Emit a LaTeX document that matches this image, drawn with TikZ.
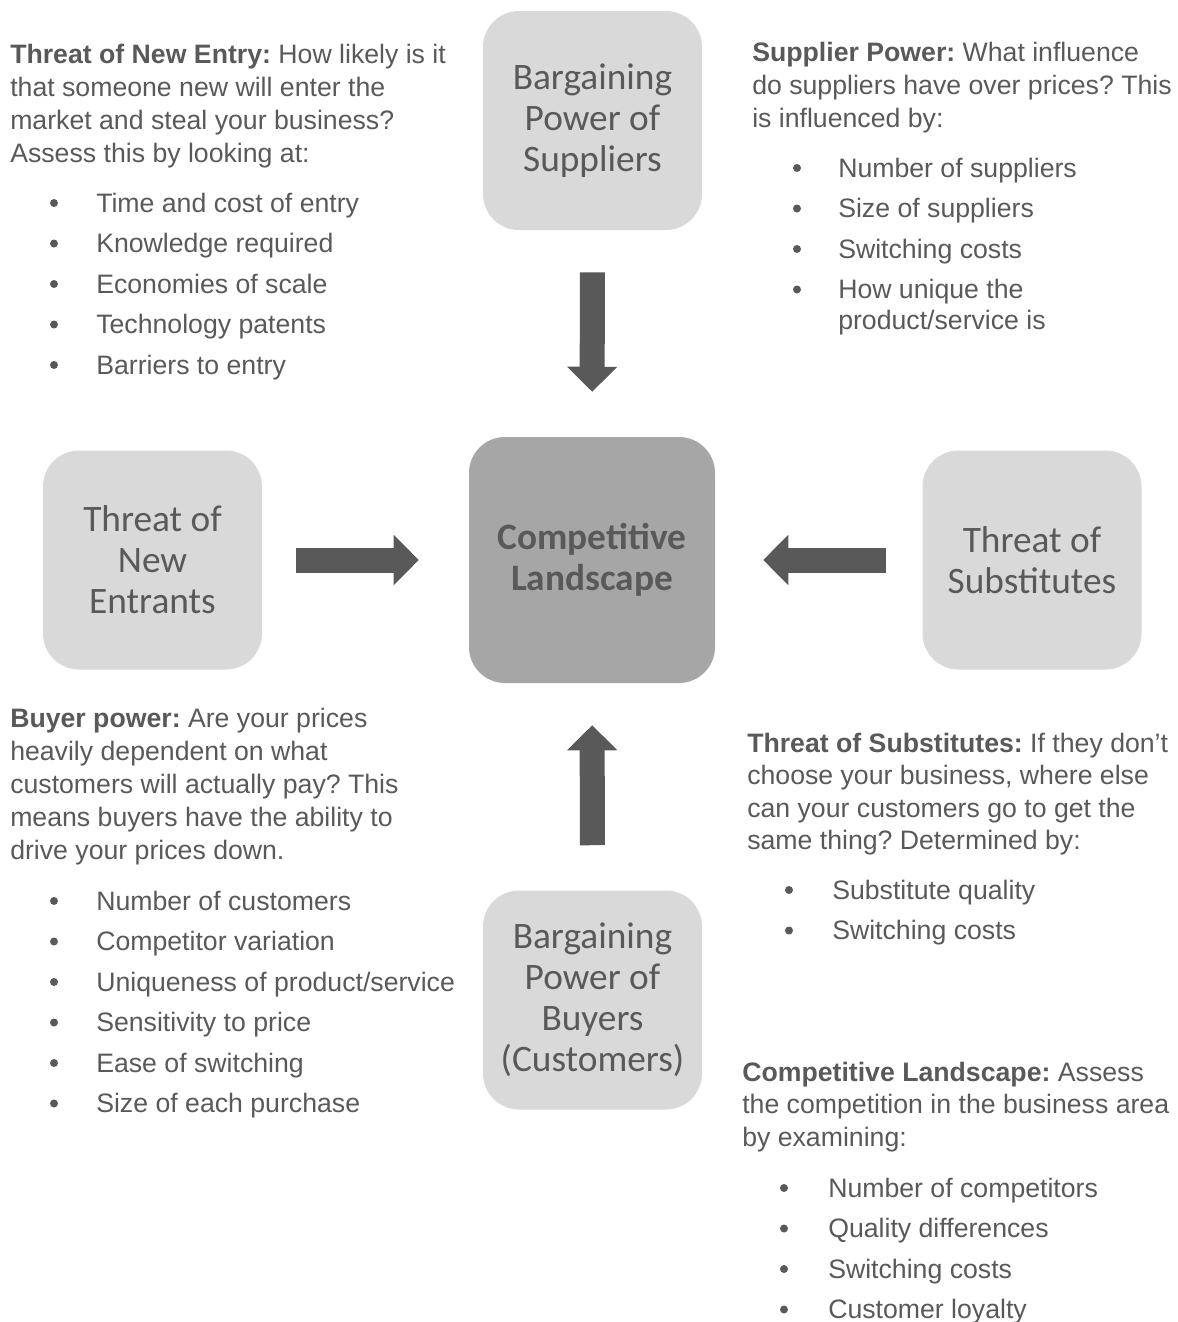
\documentclass[tikz,border=0pt]{standalone}
\usepackage{fontspec}
\setmainfont{Liberation Sans}
\newfontfamily\boxfont{Carlito}
\usetikzlibrary{arrows.meta,positioning}
\frenchspacing

\definecolor{txtgray}{HTML}{595959}
\definecolor{boxlight}{HTML}{D9D9D9}
\definecolor{boxdark}{HTML}{A6A6A6}

\tikzset{
  force/.style={rounded corners=27pt, fill=boxlight, text=txtgray, inner sep=0pt,
    minimum width=164.25pt, minimum height=164.25pt, align=center,
    font=\boxfont\fontsize{28}{30.75}\selectfont},
  core/.style={force, fill=boxdark, minimum width=184.5pt, minimum height=184.5pt,
    font=\boxfont\bfseries\fontsize{28}{30.75}\selectfont},
  push/.style={draw=txtgray, line width=18.75pt, -{Triangle[length=18.75pt,width=36.75pt]}},
  txt/.style={anchor=base west, inner sep=0pt, text=txtgray, font=\fontsize{20}{24}\selectfont}
}

\begin{document}
\begin{tikzpicture}[x=0.75pt, y=-0.75pt]
\useasboundingbox (0,0) rectangle (1178,1322);

\node[force] (sup) at (592.5,120.5) {Bargaining\\Power of\\Suppliers};
\node[force] (ent) at (152.5,560) {Threat of\\New\\Entrants};
\node[core] (land) at (592,560) {Competitive\\Landscape};
\node[force] (subs) at (1032,560) {Threat of\\Substitutes};
\node[force] (buy) at (592.5,1000) {Bargaining\\Power of\\Buyers\\(Customers)};

\draw[push, shorten <=31.5pt, shorten >=33.75pt] (sup) -- (land);
\draw[push, shorten <=25.5pt, shorten >=37.5pt] (ent) -- (land);
\draw[push, shorten <=27pt, shorten >=36pt] (subs) -- (land);
\draw[push, shorten <=33.75pt, shorten >=31.5pt] (buy) -- (land);

\node[txt] (ne1) at (10,63) {\textbf{Threat of New Entry:} How likely is it};
\node[txt] (ne2) at (10,96) {that someone new will enter the};
\node[txt] (ne3) at (10,129) {market and steal your business?};
\node[txt] (ne4) at (10,162) {Assess this by looking at:};
\node[txt] (ne5) at (96,212) {Time and cost of entry};
\node[txt] (ne6) at (96,252.5) {Knowledge required};
\node[txt] (ne7) at (96,293) {Economies of scale};
\node[txt] (ne8) at (96,333.5) {Technology patents};
\node[txt] (ne9) at (96,374) {Barriers to entry};
\fill[txtgray] (54,203) circle (4);
\fill[txtgray] (54,243.5) circle (4);
\fill[txtgray] (54,284) circle (4);
\fill[txtgray] (54,324.5) circle (4);
\fill[txtgray] (54,365) circle (4);

\node[txt] (sp1) at (752,61) {\textbf{Supplier Power:} What influence};
\node[txt] (sp2) at (752,94) {do suppliers have over prices? This};
\node[txt] (sp3) at (752,127) {is influenced by:};
\node[txt] (sp4) at (838,177) {Number of suppliers};
\node[txt] (sp5) at (838,217.5) {Size of suppliers};
\node[txt] (sp6) at (838,258) {Switching costs};
\node[txt] (sp7) at (838,298.5) {How unique the};
\node[txt] (sp8) at (838,329) {product/service is};
\fill[txtgray] (797,168) circle (4);
\fill[txtgray] (797,208.5) circle (4);
\fill[txtgray] (797,249) circle (4);
\fill[txtgray] (797,289.5) circle (4);

\node[txt] (bp1) at (10,727) {\textbf{Buyer power:} Are your prices};
\node[txt] (bp2) at (10,760) {heavily dependent on what};
\node[txt] (bp3) at (10,793) {customers will actually pay? This};
\node[txt] (bp4) at (10,826) {means buyers have the ability to};
\node[txt] (bp5) at (10,859) {drive your prices down.};
\node[txt] (bp6) at (96,910) {Number of customers};
\node[txt] (bp7) at (96,950.5) {Competitor variation};
\node[txt] (bp8) at (96,991) {Uniqueness of product/service};
\node[txt] (bp9) at (96,1031.5) {Sensitivity to price};
\node[txt] (bp10) at (96,1072) {Ease of switching};
\node[txt] (bp11) at (96,1112.5) {Size of each purchase};
\fill[txtgray] (54,901) circle (4);
\fill[txtgray] (54,941.5) circle (4);
\fill[txtgray] (54,982) circle (4);
\fill[txtgray] (54,1022.5) circle (4);
\fill[txtgray] (54,1063) circle (4);
\fill[txtgray] (54,1103.5) circle (4);

\node[txt] (ts1) at (747,752) {\textbf{Threat of Substitutes:} If they don’t};
\node[txt] (ts2) at (747,784.5) {choose your business, where else};
\node[txt] (ts3) at (747,817) {can your customers go to get the};
\node[txt] (ts4) at (747,849.5) {same thing? Determined by:};
\node[txt] (ts5) at (832,899) {Substitute quality};
\node[txt] (ts6) at (832,939.5) {Switching costs};
\fill[txtgray] (789,890) circle (4);
\fill[txtgray] (789,930.5) circle (4);

\node[txt] (cl1) at (742,1081) {\textbf{Competitive Landscape:} Assess};
\node[txt] (cl2) at (742,1113.5) {the competition in the business area};
\node[txt] (cl3) at (742,1146) {by examining:};
\node[txt] (cl4) at (828,1197) {Number of competitors};
\node[txt] (cl5) at (828,1237.5) {Quality differences};
\node[txt] (cl6) at (828,1278) {Switching costs};
\node[txt] (cl7) at (828,1318.5) {Customer loyalty};
\fill[txtgray] (784,1188) circle (4);
\fill[txtgray] (784,1228.5) circle (4);
\fill[txtgray] (784,1269) circle (4);
\fill[txtgray] (784,1309.5) circle (4);
\end{tikzpicture}
\end{document}
